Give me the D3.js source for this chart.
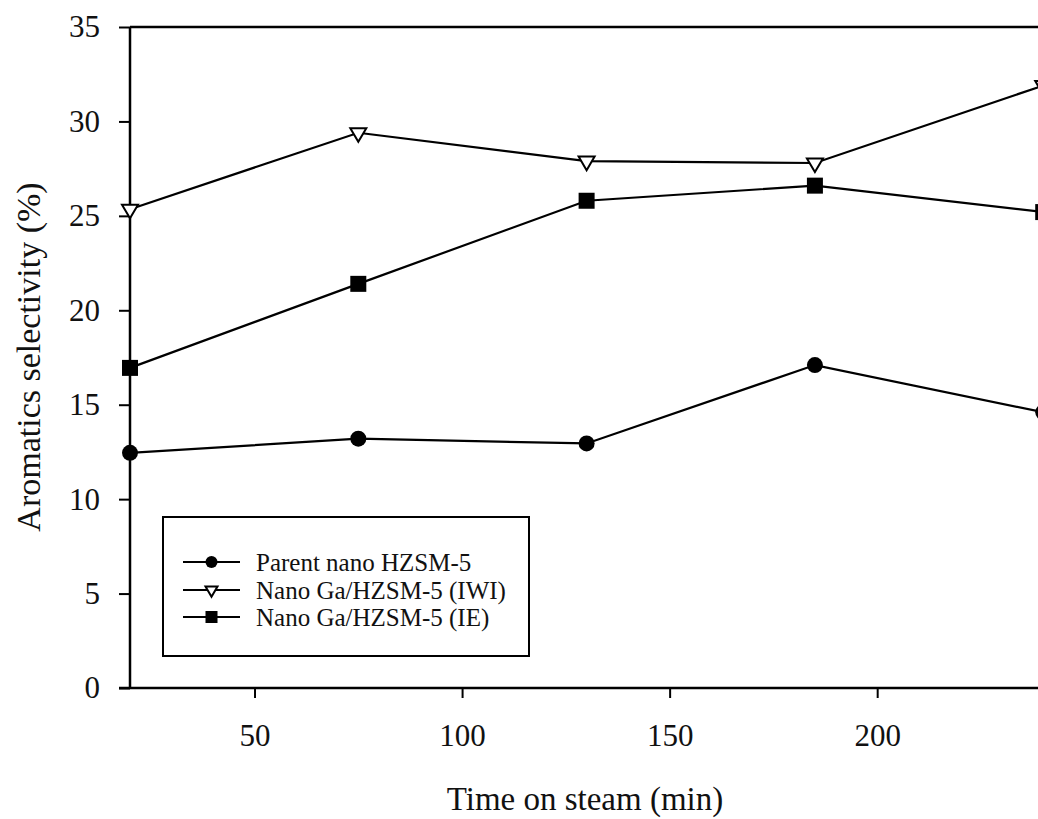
<!DOCTYPE html>
<html>
<head>
<meta charset="utf-8">
<script src="https://cdn.jsdelivr.net/npm/d3@7"></script>
<style>
  body { margin: 0; background: #fff; }
  text { font-family: "Liberation Serif", "Times New Roman", serif; fill: #111; }
</style>
</head>
<body>
<script>
// data
const times = [20, 75, 130, 185, 240];
const parentHZSM = [12.45, 13.2, 12.95, 17.1, 14.6];
const gaIWI = [25.35, 29.4, 27.9, 27.8, 31.9];
const gaIE = [16.95, 21.4, 25.8, 26.6, 25.2];
const seriesNames = ["Parent nano HZSM-5", "Nano Ga/HZSM-5 (IWI)", "Nano Ga/HZSM-5 (IE)"];
const xTicks = [50, 100, 150, 200];
const yTicks = [0, 5, 10, 15, 20, 25, 30, 35];

const w = 1038, h = 819;
const plotLeft = 130, plotTop = 27, plotBottom = 688;

const xScale = d3.scaleLinear().domain([20, 240]).range([plotLeft, plotLeft + 220 * 4.151]);
const yScale = d3.scaleLinear().domain([0, 35]).range([plotBottom, plotTop]);

const svg = d3.select("body").append("svg")
  .attr("width", w).attr("height", h);

svg.append("rect").attr("width", w).attr("height", h).attr("fill", "#fff");

// top frame line
svg.append("line")
  .attr("x1", plotLeft).attr("x2", xScale(240))
  .attr("y1", plotTop).attr("y2", plotTop)
  .attr("stroke", "#000").attr("stroke-width", 2.5);

// axes
const xAxis = d3.axisBottom(xScale).tickValues(xTicks).tickSize(10).tickPadding(26);
const yAxis = d3.axisLeft(yScale).tickValues(yTicks).tickSize(11).tickPadding(19);

const gx = svg.append("g").attr("transform", "translate(0," + plotBottom + ")").call(xAxis);
const gy = svg.append("g").attr("transform", "translate(" + plotLeft + ",0)").call(yAxis);

[gx, gy].forEach(g => {
  g.select(".domain").attr("stroke", "#000").attr("stroke-width", 2.5);
  g.selectAll(".tick line").attr("stroke", "#000").attr("stroke-width", 2);
  g.selectAll(".tick text").style("font-size", "31px").attr("fill", "#111");
});
// plain axis lines without outer ticks
gy.select(".domain").attr("d", "M0," + plotTop + "V" + plotBottom);
gx.select(".domain").attr("d", "M" + (plotLeft - 11) + ",0H" + xScale(240));

// axis titles
svg.append("text")
  .attr("x", 585).attr("y", 810)
  .attr("text-anchor", "middle")
  .style("font-size", "33px")
  .text("Time on steam (min)");

svg.append("text")
  .attr("transform", "translate(40,357) rotate(-90)")
  .attr("text-anchor", "middle")
  .style("font-size", "34px")
  .text("Aromatics selectivity (%)");

// series
const series = [
  { name: seriesNames[0], values: parentHZSM, sym: "circle" },
  { name: seriesNames[1], values: gaIWI, sym: "triangle" },
  { name: seriesNames[2], values: gaIE, sym: "square" }
];

const line = d3.line()
  .x((d, i) => xScale(times[i]))
  .y(d => yScale(d));

function drawSymbol(g, type, x, y, s) {
  if (type === "circle") {
    g.append("circle").attr("cx", x).attr("cy", y).attr("r", s / 2).attr("fill", "#000");
  } else if (type === "square") {
    g.append("rect").attr("x", x - s / 2).attr("y", y - s / 2)
      .attr("width", s).attr("height", s).attr("fill", "#000");
  } else {
    const hw = s / 2, th = s * 0.85;
    g.append("path")
      .attr("d", "M" + (x - hw) + "," + (y - th / 3) + "L" + (x + hw) + "," + (y - th / 3) +
        "L" + x + "," + (y + th * 2 / 3) + "Z")
      .attr("fill", "#fff").attr("stroke", "#000").attr("stroke-width", 2);
  }
}

series.forEach(s => {
  svg.append("path")
    .datum(s.values)
    .attr("d", line)
    .attr("fill", "none")
    .attr("stroke", "#000")
    .attr("stroke-width", 2.2);
  const g = svg.append("g");
  s.values.forEach((v, i) => drawSymbol(g, s.sym, xScale(times[i]), yScale(v), 16));
});

// legend
const legend = svg.append("g");
legend.append("rect")
  .attr("x", 163).attr("y", 517).attr("width", 366).attr("height", 139)
  .attr("fill", "#fff").attr("stroke", "#000").attr("stroke-width", 2);

const legendY = [562, 590, 617];
series.forEach((s, i) => {
  const y = legendY[i];
  legend.append("line")
    .attr("x1", 183).attr("x2", 240).attr("y1", y).attr("y2", y)
    .attr("stroke", "#000").attr("stroke-width", 2);
  drawSymbol(legend, s.sym, 211.5, y, 12);
  legend.append("text")
    .attr("x", 256).attr("y", y).attr("dy", "0.35em")
    .style("font-size", "25px")
    .text(s.name);
});
</script>
</body>
</html>
